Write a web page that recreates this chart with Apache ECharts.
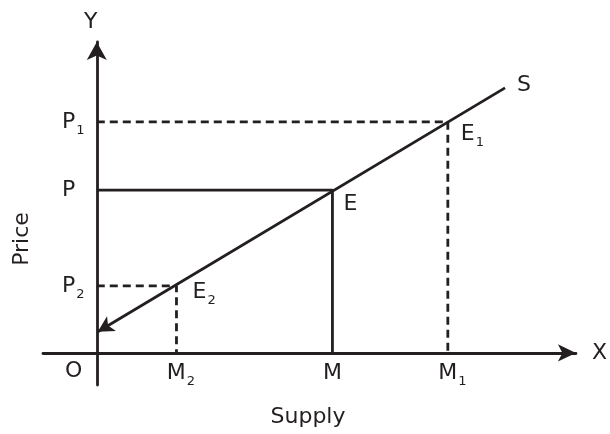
<!DOCTYPE html>
<html>
<head>
<meta charset="utf-8">
<script src="https://cdn.jsdelivr.net/npm/echarts@6/dist/echarts.min.js"></script>
<style>
    html, body { margin: 0; padding: 0; background: #fff; }
    #container { width: 610px; height: 434px; }
</style>
</head>
<body>
<div id="container"></div>
<script>
// 供给曲线数据
var quantityNames = ['M2', 'M', 'M1'];
var quantityValues = [16.3, 48.2, 71.8];
var priceNames = ['P2', 'P', 'P1'];
var priceValues = [20.9, 50.8, 72.1];
var pointNames = ['E2', 'E', 'E1'];
var supplyStart = [0.2, 6.6];
var supplyEnd = [83.5, 82.7];

var ink = '#231f20';
var font = 'DejaVu Sans';
var lineW = 2.8;

// 下标文字
function subText(name, padded) {
    if (name.length > 1) {
        return '{' + (padded ? 'mp' : 'm') + '|' + name[0] + '}{s|' + name.slice(1) + '}';
    }
    return '{m|' + name + '}';
}
var richStyle = {
    m: { fontSize: 22, fontFamily: font, color: ink, lineHeight: 30 },
    mp: { fontSize: 22, fontFamily: font, color: ink, lineHeight: 30, padding: [0, 0, 0, 9] },
    s: { fontSize: 13, fontFamily: font, color: ink, lineHeight: 13, padding: [17, 0, 0, 1] }
};

// 点的标签偏移
var labelOffset = {
    'E2': [16, 6],
    'E': [11, 14],
    'E1': [13, 12],
    'S': [12, -3]
};

function getOption() {
    var series = [];
    for (var i = 0; i < priceValues.length; i++) {
        series.push({
            type: 'line',
            symbol: 'none',
            silent: true,
            data: [[0, priceValues[i]], [quantityValues[i], priceValues[i]], [quantityValues[i], 0]],
            lineStyle: {
                color: ink,
                width: lineW,
                type: priceNames[i] == 'P' ? 'solid' : [8, 5]
            }
        });
    }
    // 供给线 S
    series.push({
        type: 'line',
        data: [],
        markLine: {
            silent: true,
            symbol: ['arrow', 'none'],
            symbolSize: [13, 16],
            label: { show: false },
            lineStyle: { color: ink, width: lineW, type: 'solid' },
            data: [[{ coord: supplyStart }, { coord: supplyEnd }]]
        }
    });
    var pts = [];
    for (var j = 0; j < pointNames.length; j++) {
        pts.push({ name: pointNames[j], value: [quantityValues[j], priceValues[j]] });
    }
    pts.push({ name: 'S', value: supplyEnd });
    pts.forEach(function (p) {
        p.label = { offset: labelOffset[p.name] };
    });
    series.push({
        type: 'scatter',
        symbolSize: 0,
        silent: true,
        itemStyle: { opacity: 1, color: ink },
        data: pts,
        label: {
            show: true,
            position: 'right',
            distance: 0,
            align: 'left',
            color: ink,
            opacity: 1,
            formatter: function (p) {
                return subText(p.name, false);
            },
            rich: richStyle
        }
    });
    // 原点 O
    series.push({
        type: 'scatter',
        symbolSize: 0,
        silent: true,
        itemStyle: { opacity: 1, color: ink },
        data: [{ name: 'O', value: [0, 0] }],
        label: {
            show: true,
            position: 'inside',
            offset: [-23, 18],
            formatter: 'O',
            fontSize: 22,
            fontFamily: font,
            color: ink,
            opacity: 1
        }
    });

    return {
        animation: false,
        grid: { left: 43, right: 31, top: 42, bottom: 49 },
        xAxis: {
            type: 'value',
            min: -11,
            max: 98,
            name: 'X',
            nameLocation: 'end',
            nameGap: 16,
            nameTextStyle: { fontSize: 22, fontFamily: font, color: ink },
            axisLine: {
                onZero: true,
                symbol: ['none', 'arrow'],
                symbolSize: [13, 18],
                lineStyle: { color: ink, width: lineW }
            },
            axisTick: { show: false },
            splitLine: { show: false },
            axisLabel: {
                customValues: quantityValues,
                margin: -27,
                color: ink,
                formatter: function (v) {
                    var i = quantityValues.indexOf(v);
                    return subText(quantityNames[i], true);
                },
                rich: richStyle
            }
        },
        yAxis: {
            type: 'value',
            min: -10,
            max: 97,
            name: 'Y',
            nameLocation: 'end',
            nameGap: 9,
            nameTextStyle: { fontSize: 22, fontFamily: font, color: ink, padding: [0, 12, 0, 0] },
            axisLine: {
                onZero: true,
                symbol: ['none', 'arrow'],
                symbolSize: [15, 18],
                lineStyle: { color: ink, width: lineW }
            },
            axisTick: { show: false },
            splitLine: { show: false },
            axisLabel: {
                customValues: priceValues,
                margin: -19,
                align: 'left',
                color: ink,
                formatter: function (v) {
                    var i = priceValues.indexOf(v);
                    return subText(priceNames[i], false);
                },
                rich: richStyle
            }
        },
        graphic: [
            {
                type: 'text', x: 22, y: 239, rotation: Math.PI / 2,
                style: { text: 'Price', align: 'center', verticalAlign: 'middle', fontSize: 22, fontFamily: font, fill: ink }
            },
            {
                type: 'text', x: 308, y: 417,
                style: { text: 'Supply', align: 'center', verticalAlign: 'middle', fontSize: 22, fontFamily: font, fill: ink }
            }
        ],
        series: series
    };
}

var container = echarts.init(document.getElementById('container'));
container.setOption(getOption());
</script>
</body>
</html>
